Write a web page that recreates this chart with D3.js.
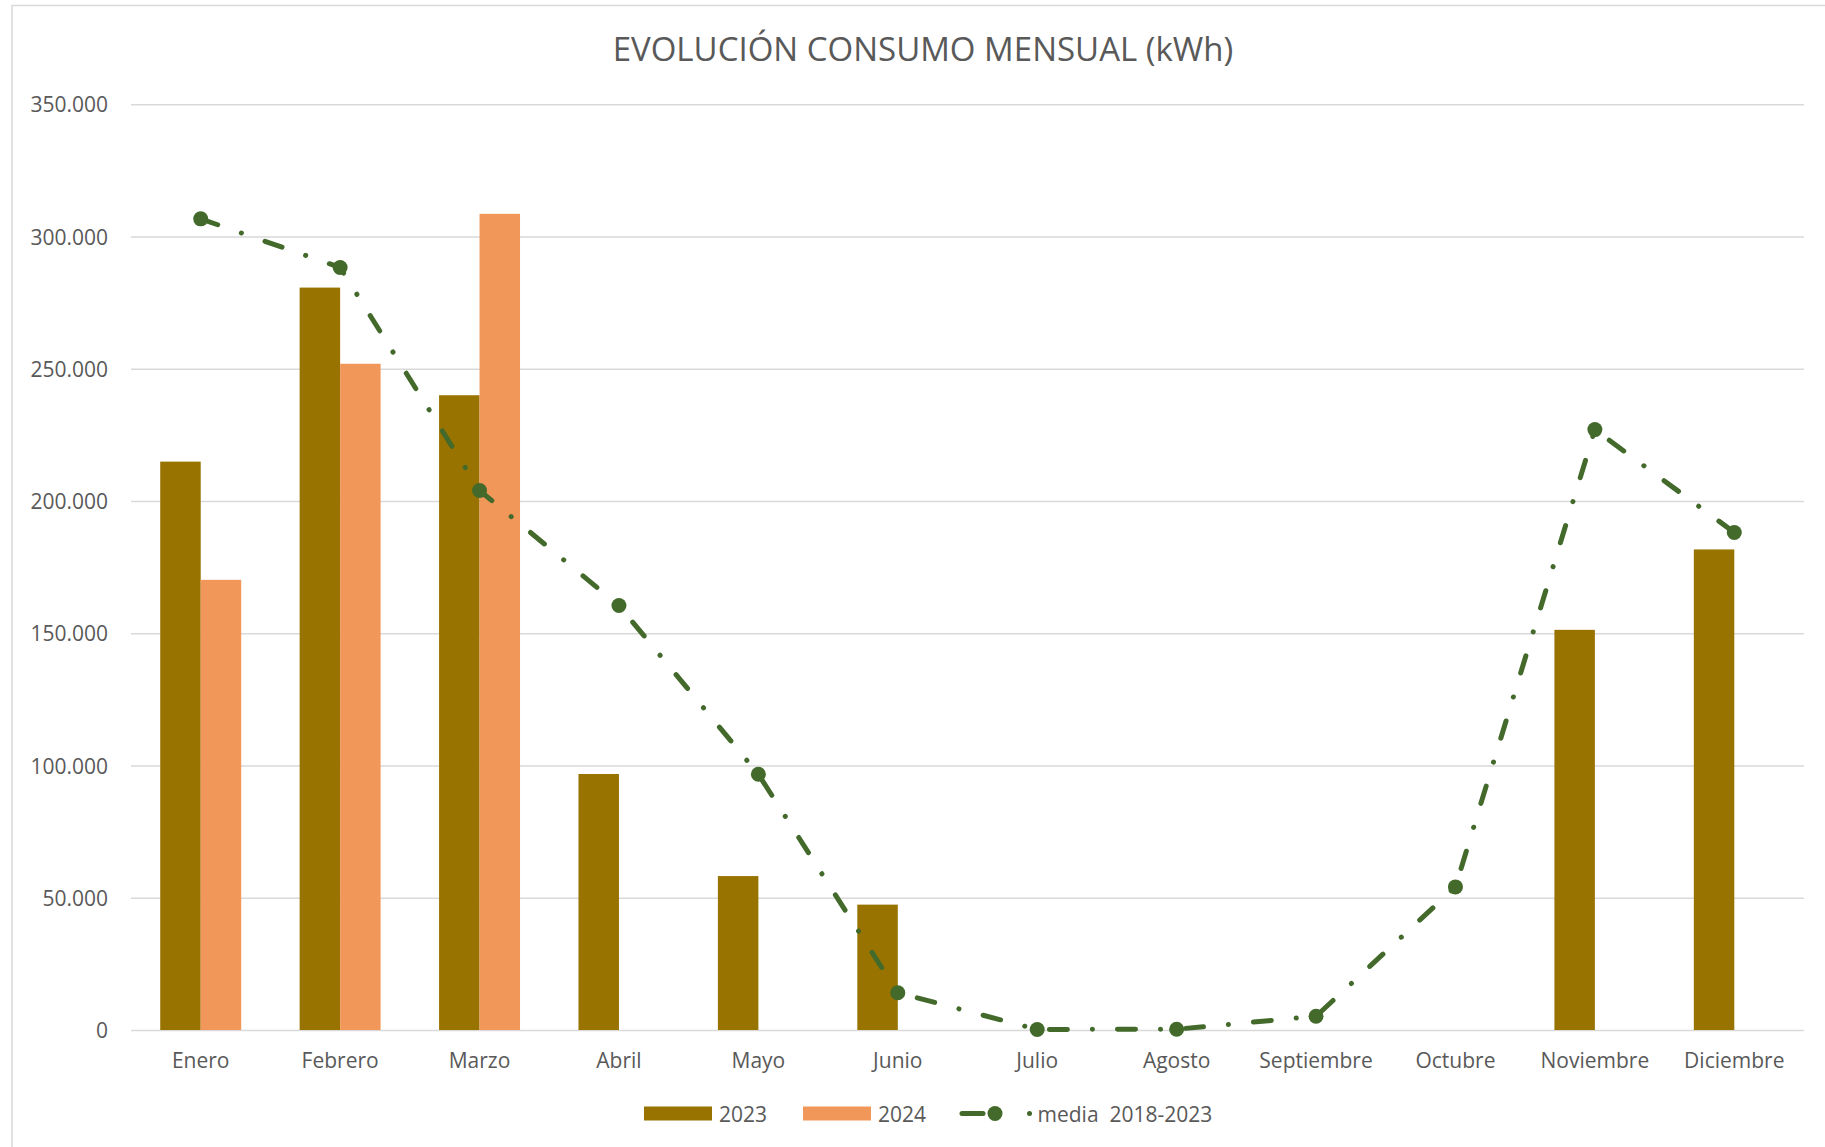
<!DOCTYPE html>
<html>
<head>
<meta charset="utf-8">
<script src="https://cdn.jsdelivr.net/npm/d3@7"></script>
<style>
  body { margin: 0; background: #fff; }
  svg { display: block; font-family: "Open Sans", sans-serif; }
</style>
</head>
<body>
<svg width="1825" height="1147"></svg>
<script>
// data
var months = ['Enero', 'Febrero', 'Marzo', 'Abril', 'Mayo', 'Junio', 'Julio',
              'Agosto', 'Septiembre', 'Octubre', 'Noviembre', 'Diciembre'];
var years = ['2023', '2024'];
var consumo2023 = [214900, 280700, 240000, 96800, 58200, 47400, null, null, null, null, 151300, 181700];
var consumo2024 = [170200, 251900, 308600, null, null, null, null, null, null, null, null, null];
var media = [306700, 288300, 204000, 160500, 96700, 14100, 200, 300, 5200, 54100, 227000, 188100];
var yTicks = [0, 50000, 100000, 150000, 200000, 250000, 300000, 350000];
var title = 'EVOLUCIÓN CONSUMO MENSUAL (kWh)';
var mediaLabel = 'media  2018-2023';

var width = 1825;
var height = 1147;
var margin = {top: 104.3, bottom: 117, left: 131, right: 21};
var textColor = '#595959';
var gridColor = '#d9d9d9';
var colors = {'2023': '#997300', '2024': '#f1975a'};
var lineColor = '#436a2b';

var svg = d3.select('svg');

// chart area border (cut off at right/bottom like the original)
svg.append('rect')
    .attr('x', 12).attr('y', 5.5)
    .attr('width', width).attr('height', height)
    .attr('fill', 'none')
    .attr('stroke', gridColor)
    .attr('stroke-width', 1.5);

svg.append('text')
    .attr('x', 923).attr('y', 61)
    .attr('text-anchor', 'middle')
    .attr('font-size', 33)
    .attr('fill', textColor)
    .text(title);

//scales
var xScale = d3.scaleBand()
    .domain(months)
    .range([margin.left, width - margin.right]);
var xInner = d3.scaleBand()
    .domain(years)
    .range([0, xScale.bandwidth()])
    .paddingInner(0)
    .paddingOuter(0.722);
var yScale = d3.scaleLinear()
    .domain([0, 350000])
    .range([height - margin.bottom, margin.top]);

var locale = d3.formatLocale({decimal: ',', thousands: '.', grouping: [3], currency: ['', '€']});
var fmt = locale.format(',');

// y axis with gridlines
var yAxis = d3.axisLeft(yScale)
    .tickValues(yTicks)
    .tickFormat(fmt)
    .tickSize(-(width - margin.left - margin.right))
    .tickPadding(23);

var yG = svg.append('g')
    .attr('transform', 'translate(' + [margin.left, 0] + ')')
    .call(yAxis);
yG.select('.domain').remove();
yG.selectAll('line').attr('stroke', gridColor).attr('stroke-width', 1.5);
yG.selectAll('text')
    .attr('font-size', 21)
    .attr('font-family', '"Open Sans", sans-serif')
    .attr('fill', textColor)
    .attr('dy', '0.36em');

// x axis labels
var xAxis = d3.axisBottom(xScale)
    .tickSize(0)
    .tickPadding(23);
var xG = svg.append('g')
    .attr('transform', 'translate(' + [0, height - margin.bottom] + ')')
    .call(xAxis);
xG.select('.domain').remove();
xG.selectAll('text')
    .attr('font-size', 21)
    .attr('font-family', '"Open Sans", sans-serif')
    .attr('fill', textColor);

// bars
var barData = [];
months.forEach(function (m, i) {
    if (consumo2023[i] != null) barData.push({month: m, year: '2023', value: consumo2023[i]});
    if (consumo2024[i] != null) barData.push({month: m, year: '2024', value: consumo2024[i]});
});

svg.append('g').selectAll('rect')
    .data(barData)
    .enter().append('rect')
    .attr('x', d => xScale(d.month) + xInner(d.year))
    .attr('width', xInner.bandwidth())
    .attr('y', d => yScale(d.value))
    .attr('height', d => yScale(0) - yScale(d.value))
    .attr('fill', d => colors[d.year]);

// media line
var lineData = months.map((m, i) => ({month: m, value: media[i]}));
var line = d3.line()
    .x(d => xScale(d.month) + xScale.bandwidth() / 2)
    .y(d => yScale(d.value));

var dash = '18 25 0.1 25';

svg.append('path')
    .datum(lineData)
    .attr('d', line)
    .attr('fill', 'none')
    .attr('stroke', lineColor)
    .attr('stroke-width', 5)
    .attr('stroke-linecap', 'round')
    .attr('stroke-linejoin', 'round')
    .attr('stroke-dasharray', dash);

svg.append('g').selectAll('circle')
    .data(lineData)
    .enter().append('circle')
    .attr('cx', d => xScale(d.month) + xScale.bandwidth() / 2)
    .attr('cy', d => yScale(d.value))
    .attr('r', 7.5)
    .attr('fill', lineColor);

// legend
var legY = 1113.5;
var legend = svg.append('g');
[{key: '2023', x: 644}, {key: '2024', x: 803}].forEach(function (it) {
    legend.append('rect')
        .attr('x', it.x).attr('y', legY - 7)
        .attr('width', 68).attr('height', 14)
        .attr('fill', colors[it.key]);
    legend.append('text')
        .attr('x', it.x + 75).attr('y', legY + 8)
        .attr('font-size', 21)
        .attr('fill', textColor)
        .text(it.key);
});
legend.append('line')
    .attr('x1', 962).attr('x2', 983)
    .attr('y1', legY).attr('y2', legY)
    .attr('stroke', lineColor)
    .attr('stroke-width', 5)
    .attr('stroke-linecap', 'round');
legend.append('circle')
    .attr('cx', 995).attr('cy', legY).attr('r', 7.5)
    .attr('fill', lineColor);
legend.append('circle')
    .attr('cx', 1029.5).attr('cy', legY).attr('r', 2.5)
    .attr('fill', lineColor);
legend.append('text')
    .attr('x', 1037.5).attr('y', legY + 8)
    .attr('font-size', 21)
    .attr('fill', textColor)
    .attr('xml:space', 'preserve')
    .style('white-space', 'pre')
    .text(mediaLabel);
</script>
</body>
</html>
